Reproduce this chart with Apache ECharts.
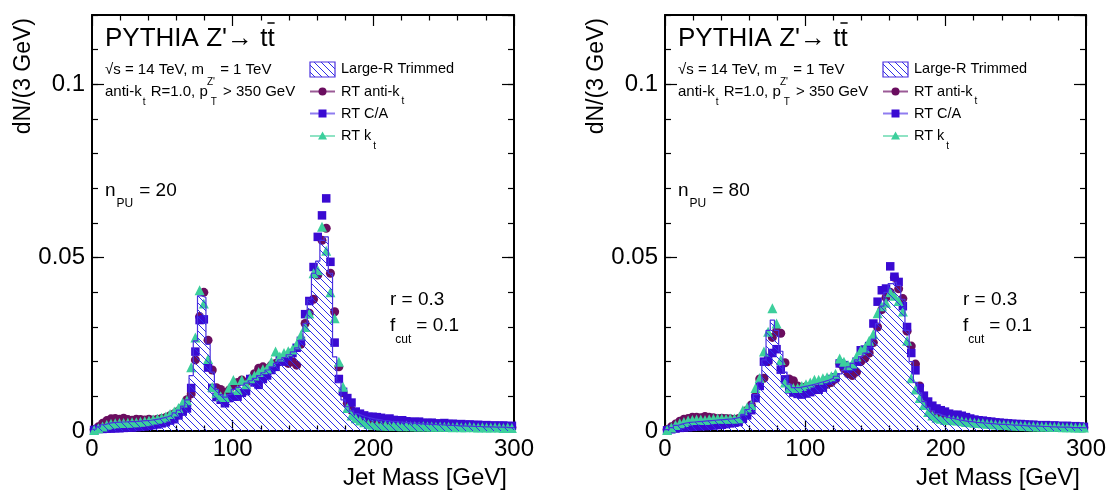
<!DOCTYPE html>
<html>
<head>
<meta charset="UTF-8">
<title>Jet mass</title>
<script src="https://cdn.jsdelivr.net/npm/echarts@6/dist/echarts.min.js"></script>
</head>
<body style="margin:0;background:#fff;">
<div id="chart" style="width:1109px;height:490px;"></div>
<script>
// 3 GeV bins from 0 to 300 GeV
var binWidth = 3;
var nBins = 100;

// n_PU = 20
var pu20Trimmed = [
  .0005,.0012,.0018,.0022,.0024,.0025,.0026,.0026,.0027,.0027,
  .0028,.0029,.0030,.0031,.0033,.0035,.0038,.0041,.0046,.0052,
  .0060,.0072,.0090,.0160,.0260,.0390,.0385,.0250,.0170,.0120,
  .0105,.0098,.0105,.0120,.0126,.0132,.0138,.0145,.0152,.0160,
  .0168,.0176,.0185,.0195,.0205,.0212,.0220,.0228,.0240,.0262,
  .0310,.0380,.0455,.0490,.0550,.0560,.0455,.0214,.0140,.0090,
  .0070,.0058,.0050,.0045,.0041,.0038,.0035,.0033,.0031,.0030,
  .0028,.0027,.0026,.0025,.0024,.0023,.0022,.0021,.0020,.0020,
  .0019,.0018,.0018,.0017,.0016,.0016,.0015,.0015,.0014,.0014,
  .0013,.0013,.0012,.0012,.0012,.0011,.0011,.0011,.0010,.0010];
var pu20AntiKt = [
  .0004,.0012,.0022,.0030,.0035,.0036,.0034,.0037,.0033,.0031,
  .0034,.0033,.0032,.0034,.0032,.0034,.0036,.0039,.0044,.0050,
  .0058,.0068,.0090,.0107,.0205,.0330,.0400,.0262,.0176,.0125,
  .0120,.0110,.0118,.0130,.0140,.0147,.0140,.0150,.0165,.0181,
  .0185,.0180,.0190,.0195,.0200,.0205,.0195,.0200,.0190,.0250,
  .0310,.0340,.0380,.0450,.0550,.0585,.0455,.0344,.0185,.0110,
  .0080,.0060,.0050,.0045,.0040,.0035,.0030,.0030,.0028,.0029,
  .0026,.0027,.0025,.0024,.0025,.0022,.0021,.0022,.0020,.0019,
  .0020,.0018,.0017,.0018,.0016,.0016,.0015,.0016,.0014,.0014,
  .0013,.0014,.0012,.0012,.0013,.0011,.0011,.0010,.0011,.0010];
var pu20CA = [
  .0003,.0006,.0006,.0007,.0007,.0008,.0008,.0009,.0010,.0010,
  .0011,.0012,.0013,.0015,.0017,.0019,.0022,.0025,.0030,.0034,
  .0045,.0056,.0065,.0124,.0229,.0320,.0322,.0183,.0124,.0098,
  .0090,.0080,.0095,.0100,.0099,.0110,.0115,.0150,.0140,.0133,
  .0150,.0160,.0176,.0185,.0205,.0200,.0215,.0225,.0240,.0260,
  .0337,.0375,.0473,.0560,.0622,.0671,.0488,.0255,.0150,.0113,
  .0095,.0082,.0056,.0050,.0045,.0041,.0041,.0040,.0038,.0034,
  .0036,.0032,.0030,.0031,.0028,.0027,.0026,.0027,.0024,.0023,
  .0024,.0022,.0021,.0023,.0020,.0021,.0019,.0020,.0018,.0019,
  .0017,.0018,.0016,.0017,.0015,.0016,.0015,.0016,.0014,.0015];
var pu20Kt = [
  .0003,.0008,.0013,.0018,.0021,.0022,.0023,.0023,.0024,.0025,
  .0025,.0027,.0028,.0030,.0033,.0035,.0038,.0042,.0049,.0056,
  .0066,.0082,.0089,.0184,.0270,.0406,.0368,.0208,.0127,.0110,
  .0100,.0098,.0125,.0147,.0118,.0147,.0135,.0152,.0160,.0170,
  .0178,.0180,.0200,.0229,.0215,.0225,.0230,.0235,.0250,.0276,
  .0300,.0339,.0455,.0464,.0589,.0520,.0400,.0325,.0200,.0128,
  .0066,.0045,.0037,.0030,.0025,.0020,.0018,.0017,.0016,.0016,
  .0015,.0016,.0015,.0014,.0015,.0014,.0014,.0013,.0014,.0013,
  .0013,.0012,.0013,.0012,.0012,.0011,.0012,.0011,.0011,.0012,
  .0011,.0010,.0011,.0010,.0010,.0011,.0010,.0009,.0010,.0009];

// n_PU = 80
var pu80Trimmed = [
  .0004,.0010,.0016,.0020,.0023,.0025,.0026,.0027,.0028,.0029,
  .0030,.0031,.0032,.0033,.0034,.0035,.0037,.0040,.0048,.0062,
  .0080,.0105,.0140,.0205,.0290,.0320,.0290,.0230,.0170,.0135,
  .0125,.0125,.0128,.0130,.0133,.0136,.0140,.0143,.0147,.0152,
  .0158,.0165,.0175,.0185,.0195,.0205,.0215,.0225,.0240,.0265,
  .0310,.0360,.0400,.0425,.0430,.0420,.0380,.0290,.0200,.0140,
  .0110,.0085,.0068,.0058,.0050,.0045,.0040,.0038,.0035,.0032,
  .0030,.0028,.0027,.0025,.0024,.0023,.0022,.0021,.0020,.0019,
  .0019,.0018,.0017,.0017,.0016,.0015,.0015,.0014,.0014,.0013,
  .0013,.0012,.0012,.0011,.0011,.0011,.0010,.0010,.0010,.0009];
var pu80AntiKt = [
  .0004,.0012,.0020,.0028,.0034,.0036,.0040,.0040,.0038,.0042,
  .0040,.0038,.0036,.0037,.0036,.0035,.0034,.0036,.0045,.0060,
  .0075,.0100,.0150,.0152,.0200,.0270,.0288,.0282,.0197,.0150,
  .0145,.0130,.0125,.0128,.0125,.0118,.0122,.0130,.0135,.0140,
  .0150,.0195,.0180,.0165,.0160,.0170,.0200,.0210,.0225,.0255,
  .0300,.0350,.0385,.0400,.0443,.0410,.0382,.0288,.0245,.0193,
  .0130,.0090,.0078,.0060,.0048,.0045,.0040,.0038,.0036,.0033,
  .0031,.0030,.0028,.0027,.0025,.0024,.0023,.0022,.0022,.0020,
  .0020,.0019,.0018,.0018,.0017,.0016,.0016,.0015,.0015,.0014,
  .0014,.0013,.0013,.0012,.0013,.0012,.0011,.0011,.0011,.0010];
var pu80CA = [
  .0002,.0005,.0007,.0009,.0010,.0011,.0012,.0013,.0014,.0014,
  .0015,.0016,.0017,.0018,.0020,.0022,.0024,.0026,.0035,.0045,
  .0060,.0095,.0130,.0200,.0206,.0225,.0236,.0177,.0149,.0120,
  .0111,.0107,.0105,.0108,.0112,.0119,.0119,.0125,.0145,.0150,
  .0155,.0195,.0190,.0180,.0185,.0200,.0233,.0235,.0245,.0310,
  .0373,.0406,.0411,.0475,.0445,.0430,.0360,.0300,.0225,.0175,
  .0124,.0102,.0085,.0073,.0065,.0060,.0056,.0050,.0046,.0047,
  .0044,.0040,.0036,.0033,.0031,.0030,.0028,.0027,.0025,.0024,
  .0023,.0022,.0021,.0020,.0020,.0019,.0018,.0018,.0017,.0016,
  .0017,.0015,.0016,.0015,.0014,.0015,.0013,.0014,.0013,.0012];
var pu80Kt = [
  .0003,.0010,.0017,.0022,.0026,.0030,.0032,.0033,.0033,.0032,
  .0034,.0035,.0036,.0036,.0035,.0036,.0036,.0037,.0060,.0068,
  .0075,.0124,.0153,.0229,.0286,.0354,.0310,.0205,.0140,.0124,
  .0124,.0124,.0130,.0135,.0140,.0148,.0148,.0152,.0155,.0158,
  .0165,.0209,.0200,.0190,.0195,.0215,.0233,.0240,.0260,.0280,
  .0340,.0360,.0370,.0400,.0390,.0375,.0345,.0260,.0152,.0120,
  .0095,.0075,.0055,.0045,.0038,.0035,.0032,.0033,.0031,.0030,
  .0028,.0026,.0025,.0024,.0023,.0022,.0021,.0020,.0019,.0018,
  .0018,.0017,.0016,.0016,.0015,.0015,.0014,.0014,.0013,.0013,
  .0013,.0012,.0012,.0012,.0011,.0011,.0011,.0010,.0010,.0010];

var FONT = '"Liberation Sans", Arial, sans-serif';
var colHist = '#4a30e0', colHatch = '#2f2fe8';
var colA = '#6a0d5f', colC = '#3a0ad2', colK = '#3ccf9c';
var lineA = '#9b5a96', lineC = '#8f7cf0', lineK = '#8fe3c4';

// hatch tile (ROOT style \\\\)
var hatch = document.createElement('canvas');
hatch.width = 7; hatch.height = 7;
var hc = hatch.getContext('2d');
hc.strokeStyle = colHatch; hc.lineWidth = 1;
hc.beginPath();
hc.moveTo(-1, -1); hc.lineTo(8, 8);
hc.moveTo(-1, 6); hc.lineTo(1, 8);
hc.moveTo(6, -1); hc.lineTo(8, 1);
hc.stroke();
var hatchFill = {image: hatch, repeat: 'repeat'};

var mctx = document.createElement('canvas').getContext('2d');
function textWidth(s, size) {
  mctx.font = size + 'px ' + FONT;
  return mctx.measureText(s).width;
}
function txt(x, y, s, size, align, rot) {
  return {
    type: 'text', x: x, y: y, rotation: rot || 0, silent: true,
    style: {
      text: s, fontSize: size, fontFamily: FONT, fill: '#000',
      align: align || 'left', verticalAlign: 'middle',
      textAlign: align || 'left', textVerticalAlign: 'middle'
    }
  };
}
// parts: [text, size, dy, gap after]
function runText(x, y, parts) {
  var out = [], cx = x;
  parts.forEach(function (p) {
    out.push(txt(cx, y + (p[2] || 0), p[0], p[1]));
    cx += textWidth(p[0], p[1]) + (p[3] || 0);
  });
  return out;
}

function histPoints(vals) {
  var pts = vals.map(function (v, i) { return [i * binWidth, v]; });
  pts.push([nBins * binWidth, vals[vals.length - 1]]);
  return pts;
}
function centerPoints(vals) {
  return vals.map(function (v, i) { return [(i + 0.5) * binWidth, v]; });
}

var panels = [
  {left: 92, pu: '20', trimmed: pu20Trimmed, antiKt: pu20AntiKt, ca: pu20CA, kt: pu20Kt},
  {left: 665, pu: '80', trimmed: pu80Trimmed, antiKt: pu80AntiKt, ca: pu80CA, kt: pu80Kt}
];

var grids = [], xAxes = [], yAxes = [], series = [], graphics = [];
var tickStyle = {color: '#000', width: 1.2};
var frameStyle = {color: '#000', width: 2};

panels.forEach(function (p, gi) {
  grids.push({left: p.left, top: 15, width: 422, height: 416});

  var xBase = {
    gridIndex: gi, type: 'value', min: 0, max: 300, interval: 100,
    axisLine: {onZero: false, lineStyle: frameStyle},
    axisTick: {inside: true, length: 11, lineStyle: tickStyle},
    minorTick: {show: true, splitNumber: 5, length: 5.5, lineStyle: tickStyle},
    splitLine: {show: false}
  };
  xAxes.push(Object.assign({}, xBase, {
    position: 'bottom',
    axisLabel: {fontSize: 24, fontFamily: FONT, color: '#000', margin: 6}
  }));
  xAxes.push(Object.assign({}, xBase, {position: 'top', axisLabel: {show: false}}));

  var yBase = {gridIndex: gi, type: 'value', min: 0, max: 0.12, splitLine: {show: false}};
  yAxes.push(Object.assign({}, yBase, {
    position: 'left', interval: 0.05,
    axisLine: {show: true, onZero: false, lineStyle: frameStyle},
    axisTick: {inside: true, length: 12, lineStyle: tickStyle},
    axisLabel: {fontSize: 24, fontFamily: FONT, color: '#000', margin: 7, showMaxLabel: false}
  }));
  yAxes.push(Object.assign({}, yBase, {
    position: 'left', interval: 0.01,
    axisLine: {show: false, onZero: false},
    axisTick: {inside: true, length: 6, lineStyle: tickStyle},
    axisLabel: {show: false}
  }));
  yAxes.push(Object.assign({}, yBase, {
    position: 'right', interval: 0.05,
    axisLine: {show: true, onZero: false, lineStyle: frameStyle},
    axisTick: {inside: true, length: 12, lineStyle: tickStyle},
    axisLabel: {show: false}
  }));
  yAxes.push(Object.assign({}, yBase, {
    position: 'right', interval: 0.01,
    axisLine: {show: false, onZero: false},
    axisTick: {inside: true, length: 6, lineStyle: tickStyle},
    axisLabel: {show: false}
  }));

  var xi = 2 * gi, yi = 4 * gi;
  series.push({
    type: 'line', xAxisIndex: xi, yAxisIndex: yi, step: 'end', symbol: 'none',
    data: histPoints(p.trimmed),
    lineStyle: {color: colHist, width: 1.2},
    areaStyle: {color: hatchFill, opacity: 1}
  });
  series.push({
    type: 'scatter', xAxisIndex: xi, yAxisIndex: yi, symbol: 'circle', symbolSize: 9,
    data: centerPoints(p.antiKt), itemStyle: {color: colA, opacity: 1}
  });
  series.push({
    type: 'scatter', xAxisIndex: xi, yAxisIndex: yi, symbol: 'rect', symbolSize: 8.5,
    data: centerPoints(p.ca), itemStyle: {color: colC, opacity: 1}
  });
  series.push({
    type: 'scatter', xAxisIndex: xi, yAxisIndex: yi, symbol: 'triangle', symbolSize: 10,
    data: centerPoints(p.kt), itemStyle: {color: colK, opacity: 1}
  });

  // labels inside the frame
  var dx = p.left - 92;
  graphics = graphics.concat(runText(105 + dx, 39, [["PYTHIA Z'\u2192 tt", 26]]));
  var barX = 105 + dx + textWidth("PYTHIA Z'\u2192 t", 26);
  graphics.push({type: 'line', silent: true,
    shape: {x1: barX, y1: 23, x2: barX + textWidth('t', 26), y2: 23},
    style: {stroke: '#000', lineWidth: 1.5}});
  graphics = graphics.concat(runText(105 + dx, 70,
    [['\u221As = 14 TeV, m', 15, 0, 3], ["Z'", 10, 12, 1], [' = 1 TeV', 15]]));
  graphics = graphics.concat(runText(105 + dx, 92,
    [['anti-k', 15, 0, 1], ['t', 10, 10, 1], [' R=1.0, p', 15, 0, 3], ['T', 10, 10, 2], [' > 350 GeV', 15]]));
  graphics = graphics.concat(runText(105 + dx, 191,
    [['n', 19, 0, 1], ['PU', 12, 13, 6], ['= ' + p.pu, 19]]));
  graphics = graphics.concat(runText(390 + dx, 300, [['r = 0.3', 19]]));
  graphics = graphics.concat(runText(390 + dx, 326,
    [['f', 19, 0, 0], ['cut', 12, 14, 5], ['= 0.1', 19]]));

  // legend
  var lx = 310 + dx, tx = 341 + dx, mx = lx + 12.5;
  graphics.push({type: 'rect', silent: true, shape: {x: lx, y: 62, width: 25, height: 15},
    style: {fill: hatchFill, stroke: colHist, lineWidth: 1.2}});
  graphics = graphics.concat(runText(tx, 69, [['Large-R Trimmed', 14.5]]));
  [[91.5, lineA], [113.5, lineC], [136, lineK]].forEach(function (r) {
    graphics.push({type: 'line', silent: true, shape: {x1: lx, y1: r[0], x2: lx + 25, y2: r[0]},
      style: {stroke: r[1], lineWidth: 2}});
  });
  graphics.push({type: 'circle', silent: true, shape: {cx: mx, cy: 91.5, r: 4}, style: {fill: colA}});
  graphics.push({type: 'rect', silent: true, shape: {x: mx - 4, y: 109.5, width: 8, height: 8}, style: {fill: colC}});
  graphics.push({type: 'polygon', silent: true,
    shape: {points: [[mx, 131.5], [mx - 4.5, 139.5], [mx + 4.5, 139.5]]}, style: {fill: colK}});
  graphics = graphics.concat(runText(tx, 91.5, [['RT anti-k', 14.5, 0, 2], ['t', 10, 10]]));
  graphics = graphics.concat(runText(tx, 113.5, [['RT C/A', 14.5]]));
  graphics = graphics.concat(runText(tx, 136, [['RT k', 14.5, 0, 2], ['t', 10, 10]]));

  // axis titles
  graphics.push(txt(24 + dx, 18, 'dN/(3 GeV)', 23, 'right', Math.PI / 2));
  graphics.push(txt(507 + dx, 478, 'Jet Mass [GeV]', 24, 'right'));
});

var chart = echarts.init(document.getElementById('chart'));
chart.setOption({
  animation: false,
  backgroundColor: '#fff',
  grid: grids,
  xAxis: xAxes,
  yAxis: yAxes,
  series: series,
  graphic: {elements: graphics}
});
</script>
</body>
</html>
